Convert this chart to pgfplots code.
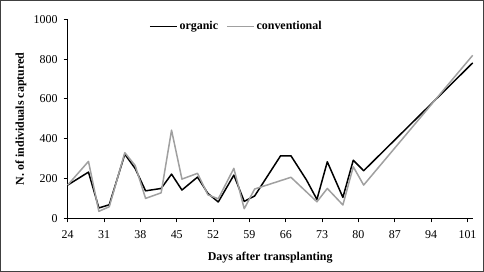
\documentclass[border=0pt]{standalone}
\usepackage{pgfplots}
\pgfplotsset{compat=1.18}
\usepackage{fontspec}
\setmainfont{Liberation Serif}
\definecolor{conv}{RGB}{160,160,160}
\begin{document}
\fontsize{12}{14}\selectfont
\begin{tikzpicture}[x=1bp,y=1bp]
\begin{axis}[
  at={(0bp,0bp)}, anchor=south west,
  scale only axis, width=405bp, height=199bp,
  xmin=24, xmax=102, ymin=0, ymax=1000,
  axis lines*=left,
  axis line style={black, line width=0.8bp},
  xtick={24,31,...,101},
  ytick={0,200,...,1000},
  tick style={black, line width=0.8bp},
  tick align=outside,
  major tick length=4bp,
  /pgf/number format/assume math mode=true,
  /pgf/number format/1000 sep={},
  xticklabel style={yshift=-4bp},
  yticklabel style={xshift=-2bp},
  xlabel={\textbf{Days after transplanting}},
  ylabel={\textbf{N. of individuals captured}},
  xlabel style={yshift=-5bp},
  ylabel style={yshift=-1bp},
  legend columns=2,
  legend style={draw=none, fill=none, at={(0.4165,0.965)}, anchor=center,
    font=\bfseries, /tikz/every even column/.append style={column sep=6bp}},
  legend image code/.code={\draw[#1] (0bp,0bp) -- (27bp,0bp);},
  clip=false,
]
\addplot[black, line width=1.5bp, line join=round] coordinates {
(24,167) (28,232) (30,52) (32,68) (35,322) (37,250) (39,138) (42,150) (44,222)
(46,142) (49,207) (51,125) (53,82) (56,217) (58,85) (60,112) (65,314) (67,314)
(70,192) (72,95) (74,284) (77,105) (79,292) (81,239) (102,781)
};
\addlegendentry{organic}
\addplot[conv, line width=1.5bp, line join=round] coordinates {
(24,167) (28,286) (30,35) (32,58) (35,330) (37,265) (39,100) (42,128) (44,443)
(46,197) (49,226) (51,118) (53,98) (56,251) (58,48) (60,147) (67,206)
(72,83) (74,150) (77,67) (79,259) (81,167) (102,819)
};
\addlegendentry{conventional}
\end{axis}
\draw[line width=1.2bp, black!75] (-67.1bp,-53.1bp) rectangle (415.7bp,217.7bp);
\end{tikzpicture}
\end{document}
